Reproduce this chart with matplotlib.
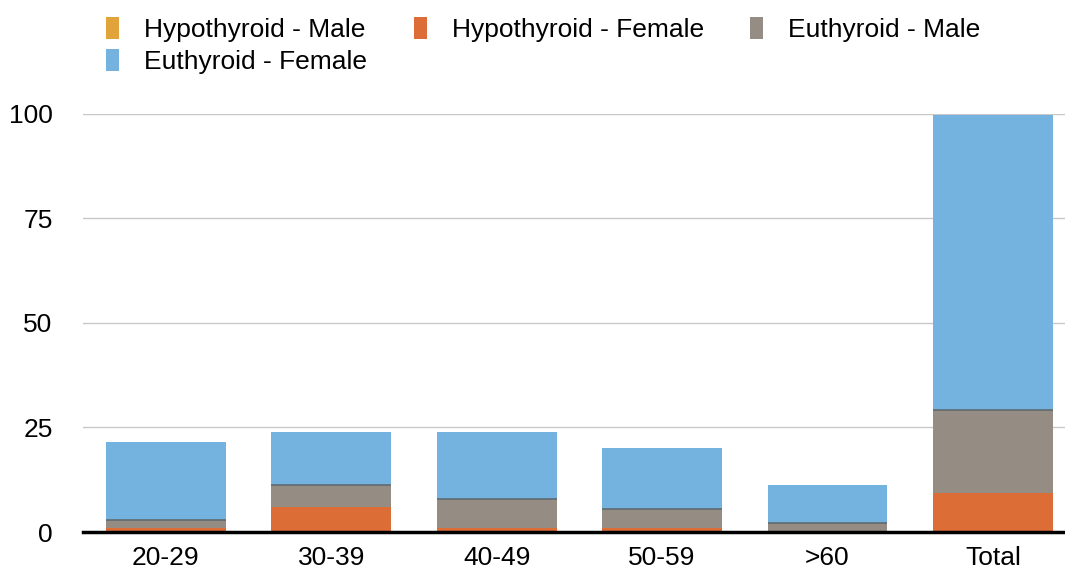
import matplotlib.pyplot as plt
from matplotlib.patches import Patch
import numpy as np

plt.rcParams['font.family'] = ['Liberation Sans', 'DejaVu Sans']

# Stacked shares per age group
groups = ["20-29", "30-39", "40-49", "50-59", ">60", "Total"]
hypo_male = [0, 0, 0, 0, 0, 0]
hypo_female = [1.0, 6.0, 1.0, 1.0, 0, 9.3]
eu_male = [1.9, 5.2, 7.0, 4.4, 2.2, 19.8]
eu_female = [18.6, 12.7, 15.9, 14.7, 9.0, 70.5]

series = ["Hypothyroid - Male", "Hypothyroid - Female", "Euthyroid - Male", "Euthyroid - Female"]
colors = ["#E0A43A", "#DC6D37", "#958D84", "#74B3E0"]
yticks = [0, 25, 50, 75, 100]

fig = plt.figure(figsize=(10.65, 5.69), dpi=100)
ax = fig.add_axes([0.078, 0.065, 0.932, 0.7355])

x = np.arange(len(groups))
width = 0.725
bottom = np.zeros(len(groups))
for vals, c in zip([hypo_male, hypo_female, eu_male, eu_female], colors):
    ax.bar(x, vals, width, bottom=bottom, color=c, linewidth=0, zorder=2)
    bottom += np.array(vals)
    if c == colors[2]:
        # thin divider along the top of the grey segment
        ax.hlines(bottom, x - width / 2, x + width / 2, color="#5f6b70", lw=1.2, zorder=3)

ax.set_xlim(-0.5, len(groups) - 0.5)
ax.set_ylim(0, 100)
ax.set_yticks(yticks)
ax.set_xticks(x)
ax.set_xticklabels(groups)
ax.yaxis.grid(True, color="#C8C8C8", lw=1)
ax.set_axisbelow(True)
for s in ["left", "right", "top"]:
    ax.spines[s].set_visible(False)
ax.spines["bottom"].set_color("black")
ax.spines["bottom"].set_linewidth(2.5)
ax.spines["bottom"].set_zorder(4)
ax.tick_params(axis="y", length=0, pad=22, labelsize=19)
ax.tick_params(axis="x", length=0, pad=10, labelsize=19)

# legend fills column-wise, so reorder to read row-wise
handles = [Patch(facecolor=c, edgecolor="none") for c in colors]
order = [0, 3, 1, 2]
fig.legend([handles[i] for i in order], [series[i] for i in order], ncol=3,
           loc="upper left", bbox_to_anchor=(0.0835, 1.0),
           frameon=False, fontsize=19, handlelength=0.5, handleheight=0.9,
           handletextpad=0.95, columnspacing=1.75, labelspacing=0.27, borderaxespad=0.25)

fig.savefig("out.png", dpi=100)
